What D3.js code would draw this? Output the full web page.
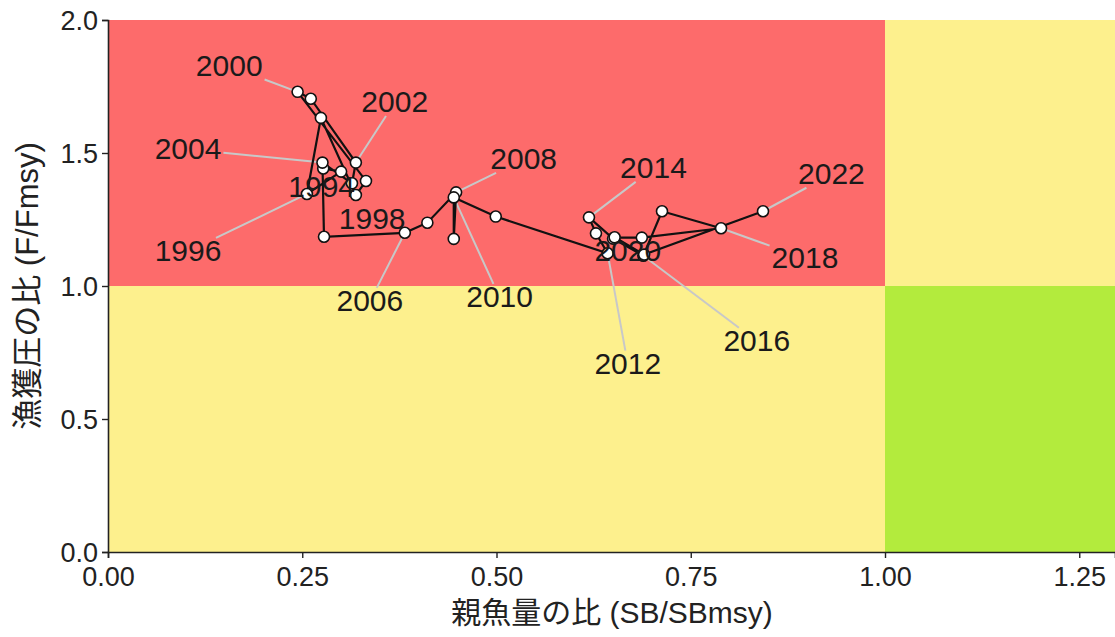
<!DOCTYPE html>
<html>
<head>
<meta charset="utf-8">
<script src="https://cdn.jsdelivr.net/npm/d3@7"></script>
<style>
  body { margin: 0; background: #fff; }
  svg text { font-family: "Liberation Sans", Arial, "Noto Sans CJK JP", sans-serif; }
</style>
</head>
<body>
<svg id="kobe" width="1115" height="637"></svg>
<script>
// years and ratios
const years = d3.range(1994, 2023);
const sbRatio = [0.277, 0.300, 0.256, 0.274, 0.319, 0.332, 0.244, 0.261, 0.319, 0.314,
                 0.276, 0.278, 0.382, 0.411, 0.448, 0.445, 0.445, 0.499, 0.643, 0.628,
                 0.619, 0.650, 0.689, 0.713, 0.789, 0.687, 0.652, 0.690, 0.843];
const fRatio = [1.442, 1.430, 1.346, 1.632, 1.342, 1.395, 1.730, 1.704, 1.464, 1.386,
                1.464, 1.185, 1.200, 1.238, 1.352, 1.177, 1.333, 1.261, 1.123, 1.198,
                1.258, 1.178, 1.114, 1.281, 1.217, 1.182, 1.183, 1.118, 1.281];
const labelYears = [1994, 1996, 1998, 2000, 2002, 2004, 2006, 2008, 2010, 2012, 2014, 2016, 2018, 2020, 2022];
const xTicks = [0, 0.25, 0.5, 0.75, 1.0, 1.25];
const yTicks = [0, 0.5, 1.0, 1.5, 2.0];

// where the repelled year labels sit (data units)
const labelAt = {
  1994: [0.275, 1.376], 1996: [0.103, 1.135], 1998: [0.340, 1.256], 2000: [0.156, 1.831],
  2002: [0.369, 1.695], 2004: [0.103, 1.519], 2006: [0.337, 0.947], 2008: [0.535, 1.481],
  2010: [0.504, 0.962], 2012: [0.669, 0.711], 2014: [0.702, 1.447], 2016: [0.835, 0.797],
  2018: [0.897, 1.109], 2020: [0.669, 1.135], 2022: [0.931, 1.425]
};

const data = years.map((y, i) => ({ year: y, sb: sbRatio[i], f: fRatio[i] }));

const svg = d3.select("#kobe");
const x = d3.scaleLinear().domain([0, 1.296]).range([108, 1115]);
const y = d3.scaleLinear().domain([0, 2]).range([552, 20]);

const zoneG = svg.append("g");
const axisG = svg.append("g");
const leaderG = svg.append("g");
const lineG = svg.append("g");
const dotG = svg.append("g");
const labelG = svg.append("g");

// zones
const zones = [
  { x0: 0, x1: 1, y0: 1, y1: 2, fill: "#fd6b6b" },
  { x0: 0, x1: 1, y0: 0, y1: 1, fill: "#fdf08d" },
  { x0: 1, x1: 1.296, y0: 1, y1: 2, fill: "#fdf08d" },
  { x0: 1, x1: 1.296, y0: 0, y1: 1, fill: "#b3eb3d" }
];
zoneG.selectAll("rect")
  .data(zones)
  .join("rect")
  .attr("x", d => x(d.x0))
  .attr("y", d => y(d.y1))
  .attr("width", d => x(d.x1) - x(d.x0))
  .attr("height", d => y(d.y0) - y(d.y1))
  .attr("fill", d => d.fill);

// axes
const xAxis = axisG.append("g")
  .attr("transform", `translate(0,${y(0)})`)
  .call(d3.axisBottom(x).tickValues(xTicks).tickFormat(d3.format(".2f")).tickSizeOuter(0).tickSize(6));
const yAxis = axisG.append("g")
  .attr("transform", `translate(${x(0)},0)`)
  .call(d3.axisLeft(y).tickValues(yTicks).tickFormat(d3.format(".1f")).tickSizeOuter(0).tickSize(6));
[xAxis, yAxis].forEach(g => {
  g.select(".domain").attr("stroke", "#222").attr("stroke-width", 1.6);
  g.selectAll(".tick line").attr("stroke", "#222").attr("stroke-width", 1.4);
  g.selectAll(".tick text").attr("fill", "#222").style("font-size", "27px");
});
xAxis.selectAll(".tick text").attr("y", 13).attr("dy", "0.76em");
yAxis.selectAll(".tick text").attr("x", -10).attr("dy", "0.34em");

axisG.append("text")
  .attr("x", 612).attr("y", 623)
  .attr("text-anchor", "middle")
  .style("font-size", "30px").attr("fill", "#222")
  .text("親魚量の比 (SB/SBmsy)");

axisG.append("text")
  .attr("transform", `translate(38,${y(1)}) rotate(-90)`)
  .attr("text-anchor", "middle")
  .style("font-size", "31px").attr("fill", "#222")
  .text("漁獲圧の比 (F/Fmsy)");

// trajectory
const line = d3.line().x(d => x(d.sb)).y(d => y(d.f));
lineG.append("path")
  .datum(data)
  .attr("d", line)
  .attr("fill", "none")
  .attr("stroke", "#111")
  .attr("stroke-width", 2.2);

dotG.selectAll("circle")
  .data(data)
  .join("circle")
  .attr("cx", d => x(d.sb))
  .attr("cy", d => y(d.f))
  .attr("r", 5.5)
  .attr("fill", "#fff")
  .attr("stroke", "#111")
  .attr("stroke-width", 1.6);

// year labels and their leader segments
labelYears.forEach(yr => {
  const d = data.find(p => p.year === yr);
  const t = labelG.append("text")
    .attr("x", x(labelAt[yr][0]))
    .attr("y", y(labelAt[yr][1]))
    .attr("text-anchor", "middle")
    .attr("dy", "0.36em")
    .style("font-size", "30px")
    .attr("fill", "#1a1a1a")
    .text(yr);
  const box = t.node().getBBox();
  const px = x(d.sb), py = y(d.f);
  const pad = 2;
  const bx0 = box.x - pad, bx1 = box.x + box.width + pad;
  const by0 = box.y + 4, by1 = box.y + box.height - 2;
  const cx = (bx0 + bx1) / 2, cy = (by0 + by1) / 2;
  // no segment when the point sits next to its label
  const nx = Math.max(bx0, Math.min(px, bx1)), ny = Math.max(by0, Math.min(py, by1));
  if (Math.hypot(px - nx, py - ny) < 20) return;
  const dx = px - cx, dy = py - cy;
  const s = Math.min(
    dx !== 0 ? (bx1 - bx0) / 2 / Math.abs(dx) : Infinity,
    dy !== 0 ? (by1 - by0) / 2 / Math.abs(dy) : Infinity
  );
  leaderG.append("line")
    .attr("x1", cx + dx * s).attr("y1", cy + dy * s)
    .attr("x2", px).attr("y2", py)
    .attr("stroke", "#c8c8c8")
    .attr("stroke-width", 2);
});
</script>
</body>
</html>
